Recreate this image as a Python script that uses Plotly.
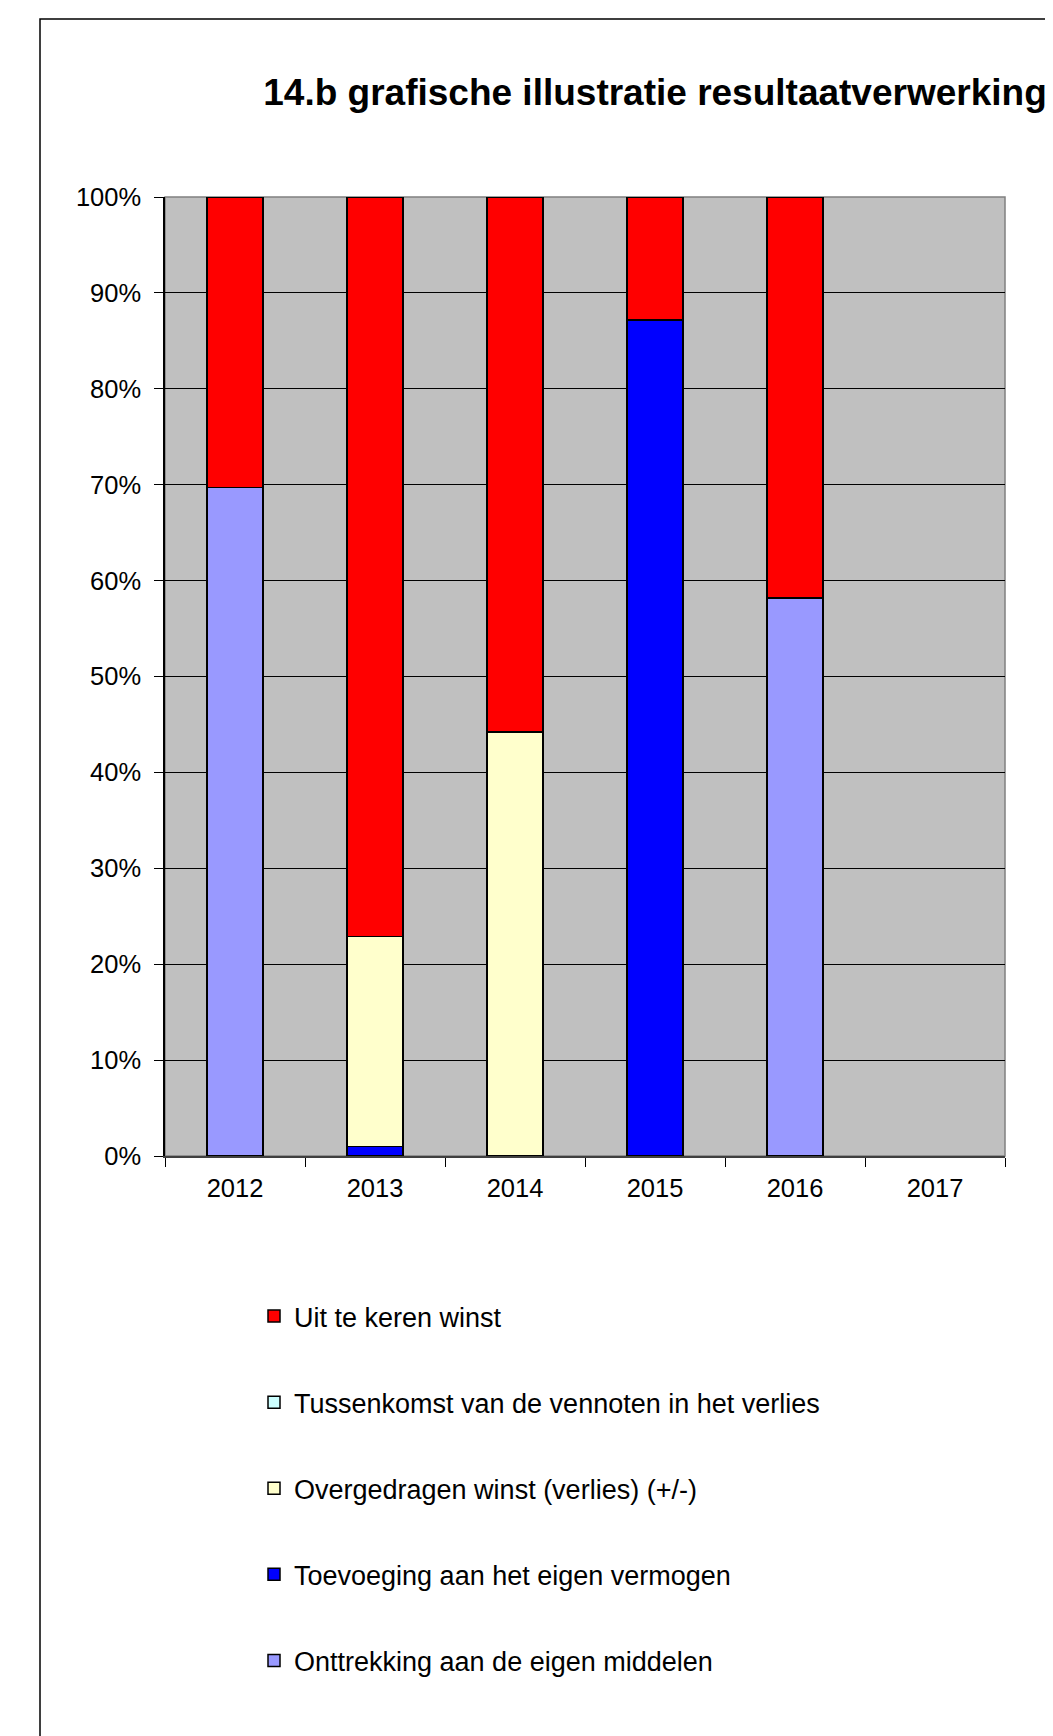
import plotly.graph_objects as go

years = ["2012", "2013", "2014", "2015", "2016", "2017"]

onttrekking = [0.697, None, None, None, 0.582, None]
toevoeging = [None, 0.010, None, 0.872, None, None]
overgedragen = [None, 0.219, 0.442, None, None, None]
tussenkomst = [None, None, None, None, None, None]
uit_te_keren = [0.303, 0.771, 0.558, 0.128, 0.418, None]

series = [
    ("Onttrekking aan de eigen middelen", onttrekking, "#9999FF"),
    ("Toevoeging aan het eigen vermogen", toevoeging, "#0000FF"),
    ("Overgedragen winst (verlies) (+/-)", overgedragen, "#FFFFCC"),
    ("Tussenkomst van de vennoten in het verlies", tussenkomst, "#CCFFFF"),
    ("Uit te keren winst", uit_te_keren, "#FF0000"),
]

OFF = 8  # default page body margin
W, H = 1053 - OFF, 1736 - OFF
# screen positions of plot area
SL, SR, ST, SB = 165, 1005, 197, 1156
ML, MT = SL - OFF, ST - OFF
MR = W - (SR - OFF)
MB = H - (SB - OFF)
PW = W - ML - MR
PH = H - MT - MB

def px_x(p):  # screen px -> paper
    return (p - SL) / PW

def px_y(p):
    return (SB - p) / PH

FONT = "Liberation Sans, Arial, sans-serif"

fig = go.Figure()
n = len(series)
for i, (name, vals, col) in enumerate(series):
    fig.add_trace(go.Bar(
        x=years, y=vals, name=name,
        marker=dict(color=col, line=dict(color="#000000", width=1.5)),
        legendgroup=f"g{i}",
        legendrank=n - i,
    ))

fig.update_layout(
    width=W, height=H,
    margin=dict(l=ML, r=MR, t=MT, b=MB, pad=0),
    barmode="stack",
    bargap=0.6,
    paper_bgcolor="#FFFFFF",
    plot_bgcolor="#C0C0C0",
    font=dict(family=FONT, size=25, color="#000000"),
    title=dict(
        text="<b>14.b grafische illustratie resultaatverwerking</b>",
        x=px_x(655), xref="paper", xanchor="center",
        y=1 - (92 - OFF) / H, yref="container", yanchor="middle",
        font=dict(family=FONT, size=37, color="#000000"),
    ),
    xaxis=dict(
        type="category", categoryorder="array", categoryarray=years,
        tickson="boundaries", ticks="outside", ticklen=9, tickcolor="#000000",
        showline=True, linecolor="#404040", linewidth=1.5,
        showgrid=False, zeroline=False,
        ticklabelstandoff=9,
        tickfont=dict(size=25.5),
    ),
    yaxis=dict(
        range=[0, 1], dtick=0.1, tickformat=".0%",
        ticks="outside", ticklen=9, tickcolor="#000000",
        showline=True, linecolor="#000000", linewidth=1.5,
        showgrid=True, gridcolor="#000000", gridwidth=1,
        zeroline=False, ticklabelstandoff=8,
        tickfont=dict(size=25.5),
    ),
    legend=dict(
        x=px_x(254), y=px_y(1292), xanchor="left", yanchor="top",
        traceorder="grouped", tracegroupgap=48,
        font=dict(family=FONT, size=27, color="#000000"),
        bgcolor="rgba(0,0,0,0)",
    ),
    showlegend=True,
    shapes=[
        dict(type="rect", xref="paper", yref="paper",
             x0=0, x1=1, y0=0, y1=1,
             line=dict(color="#808080", width=1.5), layer="below"),
        dict(type="rect", xref="paper", yref="paper",
             x0=px_x(40), x1=px_x(1070), y0=px_y(19), y1=px_y(1760),
             line=dict(color="#000000", width=1.5), layer="above"),
    ],
)

fig.write_html("out.html")
